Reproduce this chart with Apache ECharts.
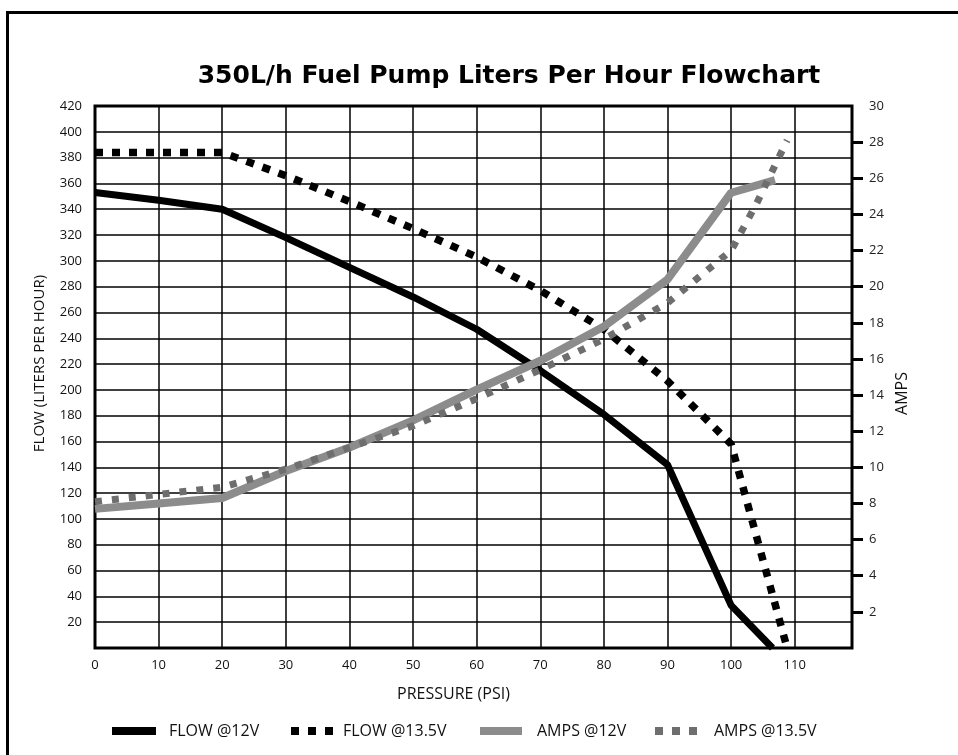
<!DOCTYPE html>
<html>
<head>
<meta charset="utf-8">
<script src="https://cdn.jsdelivr.net/npm/echarts@6/dist/echarts.min.js"></script>
<style>
html,body{margin:0;padding:0;background:#fff;}
#chart{width:958px;height:755px;}
</style>
</head>
<body>
<div id="chart"></div>
<script>
// ---- data ----
const flow12Psi    = [0, 10, 20, 30, 40, 50, 60, 70, 80, 90, 100, 106.5];
const flow12Lph    = [353, 347, 340, 318, 295, 272, 247, 215, 181, 142, 33, 0];

const flow135Psi   = [0, 10, 20, 30, 40, 50, 60, 70, 80, 90, 100, 108.8];
const flow135Lph   = [384, 384, 384, 366, 346, 325, 303, 277, 247, 207, 158, 0];

const amps12Psi    = [0, 10, 20, 30, 40, 50, 60, 70, 80, 90, 100, 106.9];
const amps12Val    = [7.7, 8.0, 8.3, 9.8, 11.1, 12.6, 14.3, 15.9, 17.8, 20.4, 25.2, 25.9];

const amps135Psi   = [0, 10, 20, 30, 40, 50, 60, 70, 80, 90, 100, 104, 108.8];
const amps135Val   = [8.1, 8.5, 8.9, 9.9, 11.1, 12.3, 13.8, 15.4, 17.1, 19.1, 22.0, 24.6, 28.1];

const seriesNames  = ['FLOW @12V', 'FLOW @13.5V', 'AMPS @12V', 'AMPS @13.5V'];
const titleText    = '350L/h Fuel Pump Liters Per Hour Flowchart';

const pair = (xs, ys) => xs.map((x, i) => [x, ys[i]]);

const FONT = 'Open Sans';
const chart = echarts.init(document.getElementById('chart'), null, {renderer: 'canvas'});

const sq = 'path://M0,0h8v8h-8zM17,0h8v8h-8zM34,0h8v8h-8z';
function legendAt(name, left, icon, w, h, gapText) {
  return {
    data: [name], left: left, top: 723, padding: 0,
    icon: icon, itemWidth: w, itemHeight: h,
    itemStyle: {borderWidth: 0},
    selectedMode: false,
    textStyle: {fontFamily: FONT, fontSize: 16, color: '#111', padding: [0, 0, 0, gapText]}
  };
}

chart.setOption({
  animation: false,
  backgroundColor: '#fff',
  title: {
    text: titleText,
    left: 504, top: 59, textAlign: 'center',
    textStyle: {fontFamily: 'DejaVu Sans', fontWeight: 'bold', fontSize: 25, color: '#000'}
  },
  graphic: [{
    type: 'rect', left: 5, top: 10, silent: true,
    shape: {width: 1000, height: 800},
    style: {fill: 'none', stroke: '#000', lineWidth: 3}
  }],
  legend: [
    legendAt(seriesNames[0], 112, 'rect', 44, 8, 8),
    legendAt(seriesNames[1], 291, sq, 42, 8, 5),
    legendAt(seriesNames[2], 480, 'rect', 42, 8, 10),
    legendAt(seriesNames[3], 655, sq, 42, 8, 12)
  ],
  grid: {
    left: 95, right: 106, top: 106, bottom: 107,
    show: true, borderColor: '#000', borderWidth: 3, backgroundColor: 'transparent'
  },
  xAxis: {
    type: 'value', min: 0, max: 119, interval: 10,
    name: 'PRESSURE (PSI)', nameLocation: 'middle', nameGap: 38,
    nameTextStyle: {fontFamily: FONT, fontSize: 16, color: '#111', padding: [0, 40, 0, 0]},
    axisLine: {show: false}, axisTick: {show: false},
    axisLabel: {fontFamily: FONT, fontSize: 13, color: '#111', margin: 11,
      formatter: v => (v % 10 === 0 ? String(v) : '')},
    splitLine: {show: true, showMinLine: false, showMaxLine: false, lineStyle: {color: '#000', width: 1.5}}
  },
  yAxis: [{
    type: 'value', min: 0, max: 420, interval: 20, position: 'left',
    name: 'FLOW (LITERS PER HOUR)', nameLocation: 'middle', nameGap: 48, nameRotate: 90,
    nameTextStyle: {fontFamily: FONT, fontSize: 15, color: '#111', padding: [0, 0, 0, 27]},
    axisLine: {show: false}, axisTick: {show: false},
    axisLabel: {fontFamily: FONT, fontSize: 13, color: '#111', margin: 13,
      formatter: v => (v === 0 ? '' : String(v))},
    splitLine: {show: true, showMinLine: false, showMaxLine: false, lineStyle: {color: '#000', width: 1.5}}
  }, {
    type: 'value', min: 0, max: 30, interval: 2, position: 'right',
    name: 'AMPS', nameLocation: 'middle', nameGap: 38, nameRotate: 90,
    nameTextStyle: {fontFamily: FONT, fontSize: 16, color: '#111', padding: [0, 33, 0, 0]},
    axisLine: {show: false},
    axisTick: {show: true, inside: false, length: 11, lineStyle: {color: '#000', width: 3},
      customValues: [2, 4, 6, 8, 10, 12, 14, 16, 18, 20, 22, 24, 26, 28]},
    axisLabel: {fontFamily: FONT, fontSize: 13, color: '#222', margin: 17,
      customValues: [2, 4, 6, 8, 10, 12, 14, 16, 18, 20, 22, 24, 26, 28, 30]},
    splitLine: {show: false}
  }],
  series: [{
    name: seriesNames[0], type: 'line', yAxisIndex: 0, symbol: 'none',
    data: pair(flow12Psi, flow12Lph),
    itemStyle: {color: '#000'},
    lineStyle: {color: '#000', width: 7}
  }, {
    name: seriesNames[1], type: 'line', yAxisIndex: 0, symbol: 'none',
    data: pair(flow135Psi, flow135Lph),
    itemStyle: {color: '#000'},
    lineStyle: {color: '#000', width: 7.5, type: [8, 9], cap: 'butt'}
  }, {
    name: seriesNames[2], type: 'line', yAxisIndex: 1, symbol: 'none',
    data: pair(amps12Psi, amps12Val),
    itemStyle: {color: '#8c8c8c'},
    lineStyle: {color: '#8c8c8c', width: 8}
  }, {
    name: seriesNames[3], type: 'line', yAxisIndex: 1, symbol: 'none',
    data: pair(amps135Psi, amps135Val),
    itemStyle: {color: '#6e6e6e'},
    lineStyle: {color: '#6e6e6e', width: 7, type: [7, 10], cap: 'butt'}
  }]
});
</script>
</body>
</html>
